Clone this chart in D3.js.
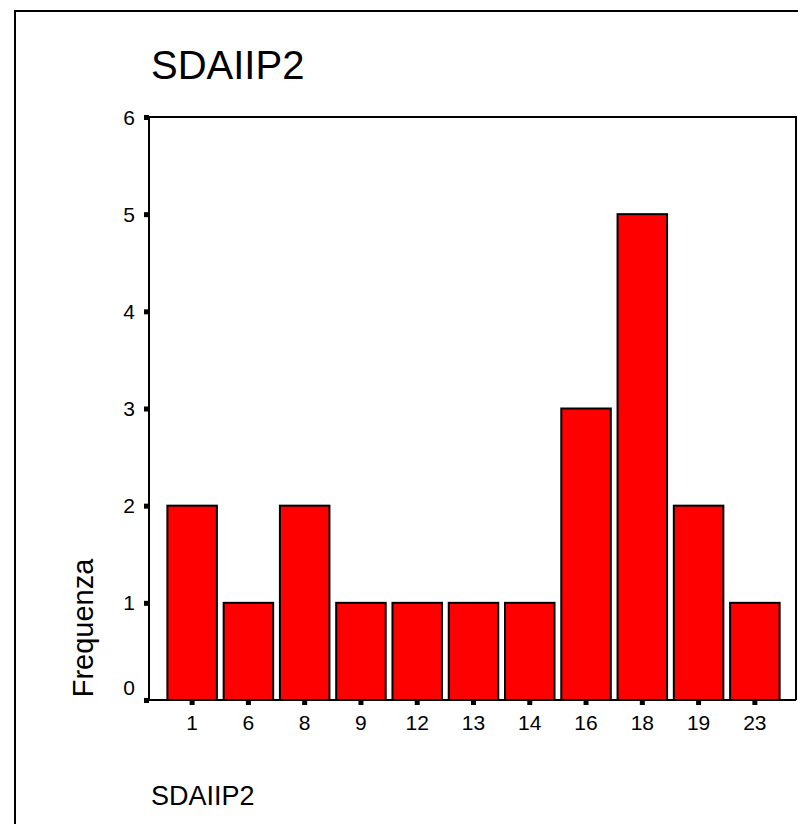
<!DOCTYPE html>
<html>
<head>
<meta charset="utf-8">
<script src="https://d3js.org/d3.v7.min.js"></script>
<style>
  body { margin: 0; background: #fff; }
  text { font-family: Arial, "Liberation Sans", sans-serif; fill: #000; }
</style>
</head>
<body>
<script>
// data
var categories = ["1", "6", "8", "9", "12", "13", "14", "16", "18", "19", "23"];
var counts = [2, 1, 2, 1, 1, 1, 1, 3, 5, 2, 1];
var yTicks = [0, 1, 2, 3, 4, 5, 6];
var title = "SDAIIP2";
var xTitle = "SDAIIP2";
var yTitle = "Frequenza";

var W = 798, H = 824;
var plotL = 149, plotR = 796, plotT = 117, plotB = 700;

var svg = d3.select("body").append("svg")
  .attr("width", W)
  .attr("height", H);

// outer frame
svg.append("rect")
  .attr("x", 15).attr("y", 11)
  .attr("width", W + 20).attr("height", H + 20)
  .attr("fill", "none")
  .attr("stroke", "#000")
  .attr("stroke-width", 2);

var x = d3.scaleBand()
  .domain(categories)
  .range([164, 783])
  .paddingInner(0.12)
  .paddingOuter(0.06);

var y = d3.scaleLinear()
  .domain([0, 6])
  .range([plotB, plotT]);

// bars
svg.selectAll(".bar")
  .data(counts)
  .enter().append("rect")
  .attr("class", "bar")
  .attr("x", function (d, i) { return x(categories[i]); })
  .attr("y", function (d) { return y(d); })
  .attr("width", x.bandwidth())
  .attr("height", function (d) { return y(0) - y(d); })
  .attr("fill", "#ff0000")
  .attr("stroke", "#000")
  .attr("stroke-width", 2);

// plot frame top and right
svg.append("path")
  .attr("d", "M" + plotL + "," + plotT + "H" + plotR + "V" + plotB)
  .attr("fill", "none")
  .attr("stroke", "#000")
  .attr("stroke-width", 2);

// y axis
var yAxis = svg.append("g")
  .attr("transform", "translate(" + plotL + ",0)")
  .call(d3.axisLeft(y).tickValues(yTicks).tickSize(5).tickPadding(9).tickFormat(d3.format("d")));
yAxis.select(".domain").attr("stroke-width", 2).attr("d", "M0," + plotT + "V" + plotB);
yAxis.selectAll(".tick line").attr("stroke-width", 5);
yAxis.selectAll(".tick text").style("font-size", "21px")
  .attr("dy", function (d) { return d === 0 ? "-0.25em" : "0.34em"; });

// x axis
var xAxis = svg.append("g")
  .attr("transform", "translate(0," + plotB + ")")
  .call(d3.axisBottom(x).tickSize(5).tickPadding(10));
xAxis.select(".domain").attr("stroke-width", 2).attr("d", "M" + (plotL - 1) + ",0H" + plotR);
xAxis.selectAll(".tick line").attr("stroke-width", 5);
xAxis.selectAll(".tick text").style("font-size", "21px");

// titles
svg.append("text")
  .attr("x", 151).attr("y", 79)
  .style("font-size", "40px")
  .text(title);

svg.append("text")
  .attr("x", 151).attr("y", 805)
  .style("font-size", "27px")
  .text(xTitle);

svg.append("text")
  .attr("transform", "translate(93," + 628 + ") rotate(-90)")
  .attr("text-anchor", "middle")
  .style("font-size", "29px")
  .text(yTitle);
</script>
</body>
</html>
